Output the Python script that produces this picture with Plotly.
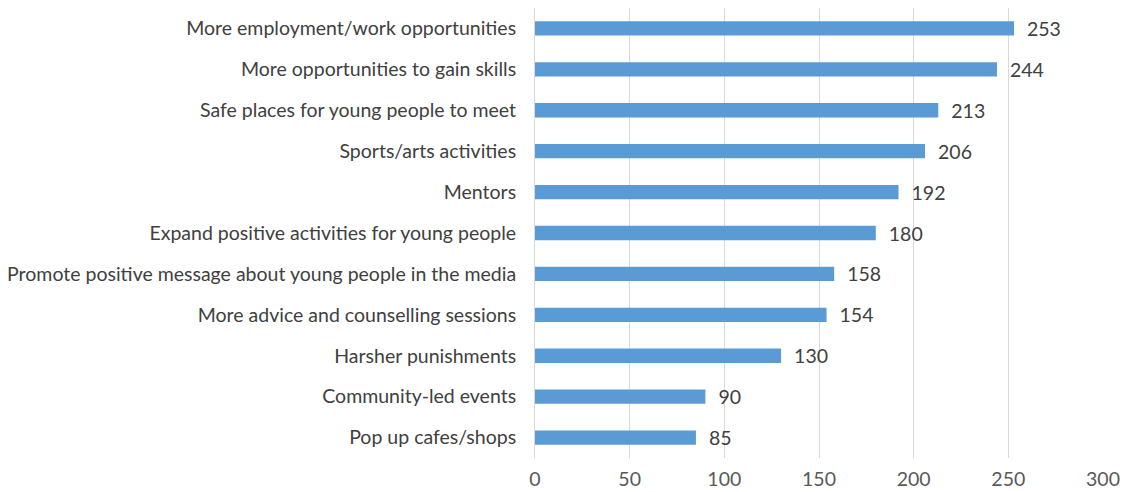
import plotly.graph_objects as go

categories = [
    "More employment/work opportunities",
    "More opportunities to gain skills",
    "Safe places for young people to meet",
    "Sports/arts activities",
    "Mentors",
    "Expand positive activities for young people",
    "Promote positive message about young people in the media",
    "More advice and counselling sessions",
    "Harsher punishments",
    "Community-led events",
    "Pop up cafes/shops",
]
values = [253, 244, 213, 206, 192, 180, 158, 154, 130, 90, 85]
x_ticks = [0, 50, 100, 150, 200, 250, 300]

FONT = "Lato"
FS = 19.5

fig = go.Figure(
    go.Bar(
        x=values,
        y=categories,
        orientation="h",
        marker=dict(color="#5B9BD5", line=dict(width=0)),
        width=0.35,
        text=values,
        texttemplate="  %{x}",
        textposition="outside",
        constraintext="none",
        textfont=dict(family=FONT, size=FS, color="#404040"),
        cliponaxis=False,
    )
)

fig.update_layout(
    width=1136,
    height=492,
    margin=dict(l=535, r=33, t=8, b=34),
    paper_bgcolor="white",
    plot_bgcolor="white",
    showlegend=False,
    font=dict(family=FONT, size=FS, color="#404040"),
    xaxis=dict(
        range=[0, 300],
        tickvals=x_ticks,
        showgrid=True,
        gridcolor="#D9D9D9",
        gridwidth=1,
        zeroline=False,
        showline=False,
        automargin=False,
        ticklabelstandoff=7,
        tickfont=dict(family=FONT, size=FS, color="#595959"),
        fixedrange=True,
    ),
    yaxis=dict(
        autorange="reversed",
        showgrid=False,
        showline=True,
        linecolor="#D9D9D9",
        linewidth=1,
        ticks="",
        automargin=False,
        ticklabelstandoff=14,
        tickfont=dict(family=FONT, size=FS, color="#404040"),
        fixedrange=True,
    ),
    bargap=0.65,
)

fig.write_html("out.html")
